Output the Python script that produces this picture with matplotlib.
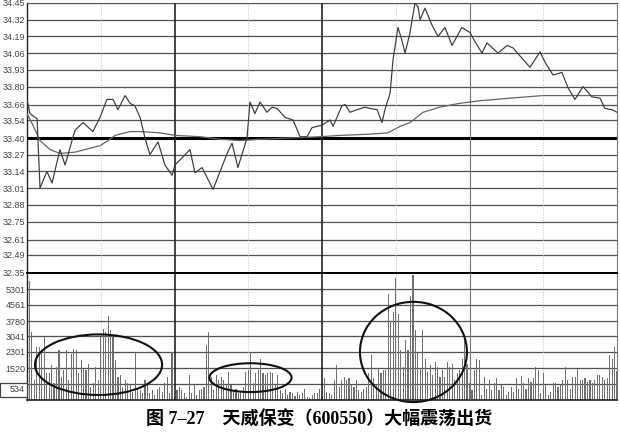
import numpy as np
import matplotlib
matplotlib.use('Agg')
import matplotlib.pyplot as plt
from matplotlib.patches import Ellipse, Rectangle

# price axis labels (left scale)
price_labels = ['32.35', '32.49', '32.61', '32.75', '32.88', '33.01', '33.14', '33.27',
                '33.40', '33.54', '33.66', '33.80', '33.93', '34.06', '34.19', '34.32', '34.45']
vol_labels = ['1520', '2301', '3041', '3780', '4561', '5301']
prev_close = 33.40

# intraday price line (minute, price)
price_min = [0, 1.2, 4.1, 5.3, 8.1, 10.2, 13.4, 15.5, 19.5, 22.8, 26.8, 29.7, 32.5, 35, 37, 39.9,
             41.9, 43.9, 46, 48, 50, 53.3, 56.1, 59, 60.2, 66.3, 68.3, 71.2, 75.7, 81.4, 83.4,
             85.8, 89.5, 90.7, 92.7, 94.8, 97.6, 99.7, 101.7, 105, 108.2, 111.1, 113.9, 115.9,
             120, 123.3, 124.5, 128.1, 129.4, 131.4, 134.2, 137.5, 139.5, 142.4, 144.4, 145.6,
             147.7, 148.9, 150.9, 152.5, 153.8, 155.8, 157.8, 159.1, 159.9, 161.9, 164.7, 167.2,
             170, 172.9, 176.9, 180.2, 182.2, 185.1, 187.1, 191.6, 195.3, 197.7, 204.6, 208.7,
             210.7, 214, 217.6, 220.1, 222.9, 226.2, 229.8, 233.1, 235.1, 238, 240]
price_val = [33.70, 33.59, 33.55, 33.01, 33.14, 33.05, 33.31, 33.19, 33.46, 33.52, 33.45, 33.56,
             33.70, 33.70, 33.62, 33.73, 33.67, 33.65, 33.56, 33.40, 33.27, 33.37, 33.19, 33.11,
             33.19, 33.31, 33.13, 33.17, 33.00, 33.28, 33.36, 33.17, 33.40, 33.68, 33.59, 33.68,
             33.60, 33.64, 33.63, 33.56, 33.54, 33.41, 33.41, 33.48, 33.50, 33.54, 33.49, 33.65,
             33.66, 33.60, 33.62, 33.64, 33.63, 33.62, 33.52, 33.62, 33.75, 34.01, 34.26, 34.16,
             34.06, 34.22, 34.45, 34.42, 34.32, 34.41, 34.28, 34.19, 34.26, 34.12, 34.26, 34.22,
             34.15, 34.06, 34.14, 34.06, 34.12, 34.10, 33.95, 34.07, 33.99, 33.89, 33.91, 33.79,
             33.70, 33.80, 33.72, 33.71, 33.63, 33.62, 33.60]

# average price line
avg_min = [0, 2.4, 5.3, 9.4, 13.4, 19.5, 25.6, 29.7, 33, 35.8, 41.9, 46, 54.1, 60.2, 70.4, 78.5,
           86.6, 94.8, 107, 119.2, 127.3, 139.5, 146.8, 151.7, 155.8, 161.1, 168, 176.1, 184.3,
           196.5, 209.9, 225, 240]
avg_val = [33.59, 33.50, 33.38, 33.31, 33.28, 33.29, 33.32, 33.34, 33.38, 33.42, 33.45, 33.45,
           33.44, 33.42, 33.41, 33.39, 33.38, 33.39, 33.40, 33.41, 33.42, 33.43, 33.44, 33.49,
           33.52, 33.60, 33.64, 33.67, 33.69, 33.71, 33.73, 33.73, 33.73]

# volume per minute
vol_am1 = [3470, 5700, 3250, 950, 2560, 2530, 2380, 3040, 1270, 1270, 1660, 790, 1580, 2380, 1110,
           1430, 2380, 950, 2220, 2450, 2380, 1270, 1900, 1500, 1430, 1740, 630, 790, 1580, 950,
           3010, 3400, 3250, 4040, 3330, 3090, 1900, 1110, 1190, 630, 950, 790, 710, 400, 2250,
           550, 480, 320, 950, 790, 320, 480, 240, 550, 630, 400, 790, 1110, 320, 2300, 160, 480]
vol_am2 = [630, 480, 320, 160, 1190, 320, 710, 240, 480, 550, 630, 2610, 3250, 1110, 480, 1190,
           950, 1110, 950, 710, 1350, 710, 480, 550, 320, 400, 630, 1350, 1430, 2300, 790, 1270,
           1430, 1980, 1270, 1190, 1270, 1350, 1270, 710, 1190, 480, 320, 550, 240, 400, 320, 190,
           400, 240, 320, 550, 160, 80, 240, 320, 320, 550, 160, 1030]
vol_pm1 = [400, 320, 240, 980, 1660, 630, 950, 1080, 950, 1030, 710, 630, 980, 480, 400, 550, 630,
           1270, 2140, 1030, 710, 1500, 1270, 1430, 1430, 5070, 3800, 4200, 5860, 4120, 2380, 1580,
           2850, 2380, 4990, 6000, 3330, 2300, 1500, 3330, 1980, 1350, 1660, 1190, 1820, 1580,
           1110, 1430, 1110, 1820, 1580, 1740, 950, 1270, 1430, 1980, 3090, 1740]
vol_pm2 = [790, 480, 1430, 1980, 1900, 240, 1110, 550, 950, 480, 790, 1030, 480, 710, 630, 240,
           400, 630, 400, 1030, 550, 1140, 790, 550, 1030, 870, 1030, 1580, 1430, 320, 1270, 710,
           240, 400, 790, 790, 630, 710, 950, 1580, 950, 550, 1110, 1110, 1500, 950, 950, 1030,
           870, 950, 790, 950, 1190, 1190, 1110, 950, 1030, 2140, 1980, 2530, 1400]
volume = vol_am1 + vol_am2 + vol_pm1 + vol_pm2

caption = '图 7–27　天威保变（600550）大幅震荡出货'

W, H = 620, 434
fig = plt.figure(figsize=(6.2, 4.34), dpi=100)
ax_p = fig.add_axes([27 / W, 1 - 273 / H, 590 / W, 270 / H])
ax_v = fig.add_axes([27 / W, 1 - 400 / H, 590 / W, 127 / H])

grid_c = '#505050'
tick_font = dict(family='Liberation Sans', size=6.5, color='#444444')

# ---- price panel
pticks = [float(s) for s in price_labels]
ax_p.set_xlim(0, 240)
ax_p.set_ylim(pticks[0], pticks[-1])
for t in pticks:
    if t == prev_close:
        ax_p.axhline(t, color='black', lw=2.2, zorder=3)
    elif t == pticks[0]:
        ax_p.axhline(t, color='black', lw=1.4, zorder=3)
    else:
        ax_p.axhline(t, color=grid_c, lw=0.9, zorder=1)
ax_p.plot(avg_min, avg_val, color='#666666', lw=0.9, zorder=4)
ax_p.plot(price_min, price_val, color='#3a3a3a', lw=0.85, zorder=5)
ax_p.set_yticks(pticks)
ax_p.set_yticklabels(price_labels, **tick_font)

# ---- volume panel
vticks = [float(s) for s in vol_labels]
ax_v.set_xlim(0, 240)
ax_v.set_ylim(0, 6080)
for t in [760] + vticks:
    ax_v.axhline(t, color=grid_c, lw=0.9, zorder=1)
ax_v.bar(np.arange(len(volume)), volume, width=0.45, color='#707070', zorder=2)
ax_v.set_yticks(vticks)
ax_v.set_yticklabels(vol_labels, **tick_font)

for ax in (ax_p, ax_v):
    ax.set_xticks([])
    ax.tick_params(axis='y', length=0, pad=1)
    ax.spines['left'].set_color('#222222')
    ax.spines['left'].set_linewidth(1.0)
    ax.spines['right'].set_color('#777777')
    ax.spines['right'].set_linewidth(0.8)
    ax.spines['top'].set_color('#555555')
    ax.spines['bottom'].set_color('#222222')
    ax.spines['bottom'].set_linewidth(1.2)
    for m in (60, 120):
        ax.axvline(m, color='#222222', lw=1.2, zorder=3)
    ax.axvline(180, color='#777777', lw=0.8, zorder=3)
    for m in (30, 90, 150, 210):
        ax.axvline(m, color='#aaaaaa', lw=0.6, ls=(0, (1, 2)), zorder=1)
ax_p.spines['bottom'].set_visible(False)
ax_v.spines['top'].set_color('black')
ax_v.spines['top'].set_linewidth(1.4)

# hand drawn ellipses around the volume clusters
for cx, cy, w, h in [(29.1, 1690, 51.7, 2900), (90.9, 1070, 33.4, 1380), (157.2, 2300, 43.5, 4800)]:
    ax_v.add_patch(Ellipse((cx, cy), w, h, fill=False, ec='#111111', lw=1.5,
                           zorder=6, clip_on=False))

# small cursor box with 534
fig.add_artist(Rectangle((0, 1 - 397 / H), 27 / W, 14 / H, transform=fig.transFigure,
                         facecolor='white', edgecolor='#444444', lw=0.9))
fig.text(25 / W, 1 - 390 / H, '534', ha='right', va='center', **tick_font)

fig.text(0.515, 1 - 420 / H, caption, ha='center', va='center', fontsize=13,
         fontweight='bold', family=['Liberation Serif', 'Noto Sans CJK SC'])

fig.savefig('out.png', dpi=100, facecolor='white')
